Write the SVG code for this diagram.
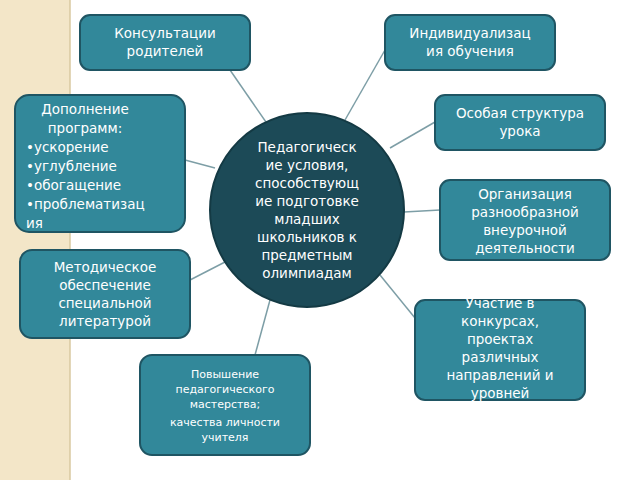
<svg xmlns="http://www.w3.org/2000/svg" width="640" height="480" viewBox="0 0 640 480">
<style>
.b{fill:#32889a;stroke:#1f5563;stroke-width:2}
.t{font-family:"DejaVu Sans",sans-serif;font-size:13.5px;fill:#fff;text-anchor:middle}
.s{font-size:11px}
.l{text-anchor:start}
.c line{stroke:#7d9ea6;stroke-width:1.5}
</style>
<rect width="640" height="480" fill="#fff"/>
<rect width="70" height="480" fill="#f3e6c8"/>
<line x1="70" y1="0" x2="70" y2="480" stroke="#d8c8a0" stroke-width="1.5"/>
<g class="c">
<line x1="230" y1="70" x2="268" y2="125"/>
<line x1="385" y1="50" x2="345" y2="120"/>
<line x1="185" y1="160" x2="215" y2="168"/>
<line x1="435" y1="122" x2="390" y2="148"/>
<line x1="440" y1="210" x2="404" y2="212"/>
<line x1="190" y1="280" x2="225" y2="262"/>
<line x1="415" y1="318" x2="380" y2="275"/>
<line x1="255" y1="355" x2="270" y2="300"/>
</g>
<g id="center"><circle cx="307" cy="210" r="97" fill="#1c4a57" stroke="#143a44" stroke-width="2"/>
<text class="t" font-size="13.5"><tspan x="307" y="152">Педагогическ</tspan><tspan x="307" y="170">ие условия,</tspan><tspan x="307" y="188">способствующ</tspan><tspan x="307" y="206">ие подготовке</tspan><tspan x="307" y="224">младших</tspan><tspan x="307" y="242">школьников к</tspan><tspan x="307" y="260">предметным</tspan><tspan x="307" y="278">олимпиадам</tspan></text></g>
<g id="n1"><rect class="b" x="80" y="15" width="170" height="55" rx="10"/><text class="t"><tspan x="165" y="38">Консультации</tspan><tspan x="165" y="56">родителей</tspan></text></g>
<g id="n2"><rect class="b" x="385" y="15" width="170" height="55" rx="10"/><text class="t"><tspan x="470" y="38">Индивидуализац</tspan><tspan x="470" y="56">ия обучения</tspan></text></g>
<g id="n3"><rect class="b" x="15" y="95" width="170" height="137" rx="14"/><text class="t"><tspan x="85" y="114">Дополнение</tspan><tspan x="85" y="133">программ:</tspan><tspan class="l" x="26" y="152">•ускорение</tspan><tspan class="l" x="26" y="171">•углубление</tspan><tspan class="l" x="26" y="190">•обогащение</tspan><tspan class="l" x="26" y="209">•проблематизац</tspan><tspan class="l" x="26" y="228">ия</tspan></text></g>
<g id="n4"><rect class="b" x="435" y="95" width="170" height="55" rx="10"/><text class="t"><tspan x="520" y="118">Особая структура</tspan><tspan x="520" y="136">урока</tspan></text></g>
<g id="n5"><rect class="b" x="440" y="180" width="170" height="80" rx="10"/><text class="t"><tspan x="525" y="199">Организация</tspan><tspan x="525" y="217">разнообразной</tspan><tspan x="525" y="235">внеурочной</tspan><tspan x="525" y="253">деятельности</tspan></text></g>
<g id="n6"><rect class="b" x="20" y="250" width="170" height="88" rx="12"/><text class="t"><tspan x="105" y="272">Методическое</tspan><tspan x="105" y="290">обеспечение</tspan><tspan x="105" y="308">специальной</tspan><tspan x="105" y="326">литературой</tspan></text></g>
<g id="n7"><rect class="b" x="415" y="300" width="170" height="100" rx="10"/><text class="t"><tspan x="500" y="308">Участие в</tspan><tspan x="500" y="326">конкурсах,</tspan><tspan x="500" y="344">проектах</tspan><tspan x="500" y="362">различных</tspan><tspan x="500" y="380">направлений и</tspan><tspan x="500" y="398">уровней</tspan></text></g>
<g id="n8"><rect class="b" x="140" y="355" width="170" height="100" rx="12"/><text class="t s"><tspan x="225" y="378">Повышение</tspan><tspan x="225" y="393">педагогического</tspan><tspan x="225" y="408">мастерства;</tspan><tspan x="225" y="426">качества личности</tspan><tspan x="225" y="441">учителя</tspan></text></g>
</svg>
